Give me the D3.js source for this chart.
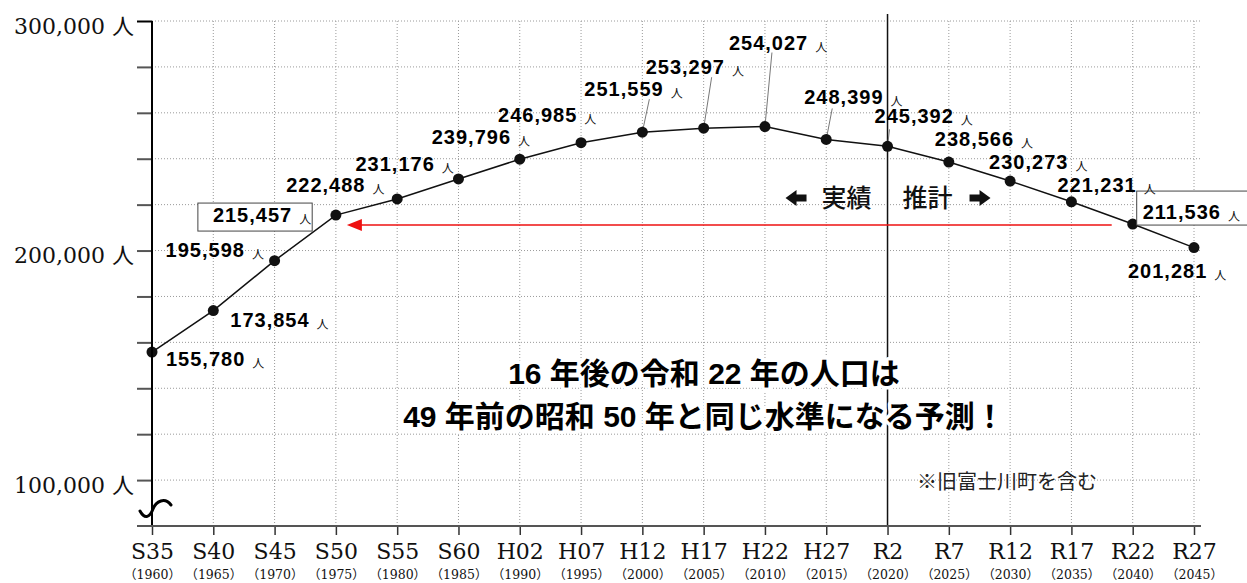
<!DOCTYPE html>
<html>
<head>
<meta charset="utf-8">
<script src="https://cdn.jsdelivr.net/npm/d3@7"></script>
<style>
body { margin: 0; background: #fff; }
</style>
</head>
<body>
<script>
// data
var eras = ["S35","S40","S45","S50","S55","S60","H02","H07","H12","H17","H22","H27","R2","R7","R12","R17","R22","R27"];
var years = [1960,1965,1970,1975,1980,1985,1990,1995,2000,2005,2010,2015,2020,2025,2030,2035,2040,2045];
var population = [155780,173854,195598,215457,222488,231176,239796,246985,251559,253297,254027,248399,245392,238566,230273,221231,211536,201281];
var yTicks = [100000,120000,140000,160000,180000,200000,220000,240000,260000,280000,300000];
var yLabelTicks = [100000,200000,300000];
var splitEra = "R2";          // 実績 | 推計
var compareFrom = 16, compareTo = 3;   // R22 -> S50
var messageLines = ["16 年後の令和 22 年の人口は", "49 年前の昭和 50 年と同じ水準になる予測！"];
var noteText = "※旧富士川町を含む";

// label placement (offset of label from its point), leader lines, boxes
var labelOffset = [[14,14],[17,16],[-109,-4],[-123,7],[-111,-7],[-103,-8],[-88,-15],[-83,-21],[-58,-36],[-58,-54],[-36,-77],[-22,-35],[-13,-23],[-14,-16],[-21,-12],[-14,-10],[10,-5],[-66,30]];
var leaderEnd = {8:[7,-33], 9:[8,-51], 10:[7,-74], 11:[6,-31], 12:[2,-17]};
var boxPad = {3:[15,3,1,2], 16:[6,12,8,-1]};

var W = 1247, H = 583;
var svg = d3.select("body").append("svg")
    .attr("width", W).attr("height", H);

var x = d3.scalePoint().domain(eras).range([152, 1194]);
var y = d3.scaleLinear().domain([80000, 300000]).range([526, 21]);

// grid
var grid = svg.append("g");
grid.selectAll("line.h").data(yTicks).enter().append("line")
    .attr("x1", 152).attr("x2", 1201)
    .attr("y1", function(d){ return y(d); }).attr("y2", function(d){ return y(d); })
    .style("stroke", "#9a9a9a").style("stroke-width", 1).style("stroke-dasharray", "1,2");
grid.selectAll("line.v").data(eras.slice(1)).enter().append("line")
    .attr("x1", function(d){ return x(d); }).attr("x2", function(d){ return x(d); })
    .attr("y1", 21).attr("y2", 526)
    .style("stroke", "#9a9a9a").style("stroke-width", 1).style("stroke-dasharray", "1,2");

// 実績 / 推計 divider
svg.append("line")
    .attr("x1", x(splitEra)).attr("x2", x(splitEra))
    .attr("y1", 14).attr("y2", 526)
    .style("stroke", "#111").style("stroke-width", 1.5);

// red comparison arrow
var ay = y(population[compareFrom]) + 1;
var ax1 = x(eras[compareFrom]) - 21, ax2 = x(eras[compareTo]) + 11;
svg.append("line")
    .attr("x1", ax1).attr("x2", ax2 + 12).attr("y1", ay).attr("y2", ay)
    .style("stroke", "#ee1111").style("stroke-width", 1.5);
svg.append("path")
    .attr("d", "M" + ax2 + "," + ay + "L" + (ax2 + 15) + "," + (ay - 6) + "L" + (ax2 + 15) + "," + (ay + 6) + "Z")
    .style("fill", "#ee1111");

// 実績 推計 with block arrows
var sx = x(splitEra);
svg.append("path")
    .attr("d", "M" + (sx-102) + ",198 L" + (sx-91) + ",190 L" + (sx-91) + ",194.5 L" + (sx-81) + ",194.5 L" + (sx-81) + ",201.5 L" + (sx-91) + ",201.5 L" + (sx-91) + ",206 Z")
    .style("fill", "#111");
svg.append("path")
    .attr("d", "M" + (sx+103) + ",198 L" + (sx+92) + ",190 L" + (sx+92) + ",194.5 L" + (sx+82) + ",194.5 L" + (sx+82) + ",201.5 L" + (sx+92) + ",201.5 L" + (sx+92) + ",206 Z")
    .style("fill", "#111");
svg.append("text").text("実績")
    .attr("x", sx - 66).attr("y", 207)
    .style("font-family", "'Noto Sans CJK JP'").style("font-size", "25px").style("font-weight", 500).style("fill", "#111");
svg.append("text").text("推計")
    .attr("x", sx + 15).attr("y", 207)
    .style("font-family", "'Noto Sans CJK JP'").style("font-size", "25px").style("font-weight", 500).style("fill", "#111");

// population line
var line = d3.line()
    .x(function(d,i){ return x(eras[i]); })
    .y(function(d){ return y(d); });
svg.append("path").datum(population)
    .attr("d", line)
    .style("fill", "none").style("stroke", "#111").style("stroke-width", 1.5);

// leader lines
svg.selectAll("line.leader").data(population).enter()
    .filter(function(d,i){ return leaderEnd[i]; })
    .append("line")
    .attr("x1", function(d){ return x(eras[population.indexOf(d)]); })
    .attr("y1", function(d){ return y(d); })
    .attr("x2", function(d){ var i = population.indexOf(d); return x(eras[i]) + leaderEnd[i][0]; })
    .attr("y2", function(d){ var i = population.indexOf(d); return y(d) + leaderEnd[i][1]; })
    .style("stroke", "#777").style("stroke-width", 1);

// dots
svg.selectAll("circle.pt").data(population).enter().append("circle")
    .attr("cx", function(d,i){ return x(eras[i]); })
    .attr("cy", function(d){ return y(d); })
    .attr("r", 5.5)
    .style("fill", "#111");

// value labels
var fmt = d3.format(",");
var labels = svg.selectAll("text.val").data(population).enter().append("text")
    .attr("class", "val")
    .attr("x", function(d,i){ return x(eras[i]) + labelOffset[i][0]; })
    .attr("y", function(d,i){ return y(d) + labelOffset[i][1]; });
labels.append("tspan")
    .text(function(d){ return fmt(d); })
    .style("font-family", "'Liberation Sans', Arial, sans-serif")
    .style("font-weight", "bold").style("font-size", "20px")
    .style("letter-spacing", "1px").style("fill", "#000");
labels.append("tspan")
    .text("人")
    .attr("dx", 7).attr("dy", 2)
    .style("font-family", "'Noto Sans CJK JP'").style("font-size", "12px").style("fill", "#111");

// boxes around two compared values
labels.each(function(d,i){
    if (!boxPad[i]) return;
    var bb = this.getBBox(), p = boxPad[i];
    svg.insert("rect", "text.val")
        .attr("x", bb.x - p[0]).attr("y", bb.y - p[1] + 2)
        .attr("width", bb.width + p[0] + p[2]).attr("height", bb.height + p[1] + p[3])
        .style("fill", "#fff").style("stroke", "#444").style("stroke-width", 1);
});

// message
svg.selectAll("text.msg").data(messageLines).enter().append("text")
    .attr("x", 704)
    .attr("y", function(d,i){ return 384 + i * 43; })
    .attr("text-anchor", "middle")
    .text(function(d){ return d; })
    .style("font-family", "'Liberation Sans', 'Noto Sans CJK JP', sans-serif")
    .style("font-weight", "bold").style("font-size", "30px")
    .style("fill", "#000")
    .style("stroke", "#fff").style("stroke-width", 7).style("stroke-linejoin", "round")
    .style("paint-order", "stroke");

svg.append("text").text(noteText)
    .attr("x", 917).attr("y", 489)
    .style("font-family", "'Noto Sans CJK JP'").style("font-size", "20px").style("fill", "#222");

// y axis
var yAxis = svg.append("g")
    .attr("transform", "translate(152,0)")
    .call(d3.axisLeft(y).tickValues(yTicks).tickSize(15).tickPadding(3)
        .tickFormat(function(d){ return yLabelTicks.indexOf(d) >= 0 ? fmt(d) + " 人" : ""; }));
yAxis.select(".domain").remove();
yAxis.selectAll(".tick line")
    .style("stroke", function(d){ return d === 300000 ? "#000" : "#555"; })
    .style("stroke-width", 2);
yAxis.selectAll(".tick text")
    .attr("dy", "0.55em")
    .style("font-family", "'DejaVu Serif', 'Noto Sans CJK JP', serif")
    .style("font-size", "22px").style("fill", "#111");
svg.append("line")
    .attr("x1", 152).attr("x2", 152).attr("y1", y(300000)).attr("y2", 526)
    .style("stroke", "#000").style("stroke-width", 2);

// x axis
var xAxis = svg.append("g")
    .attr("transform", "translate(0,526)")
    .call(d3.axisBottom(x).tickSize(9).tickPadding(8));
xAxis.select(".domain").remove();
xAxis.selectAll(".tick line").style("stroke", "#333").style("stroke-width", 1.5);
xAxis.selectAll(".tick text")
    .attr("dy", "0.71em")
    .style("font-family", "'DejaVu Serif', serif")
    .style("font-size", "22px").style("fill", "#111");
var yearText = xAxis.selectAll(".tick").append("text")
    .attr("y", 53)
    .attr("text-anchor", "middle")
    .style("font-size", "12.5px").style("fill", "#111");
yearText.append("tspan").text("（").style("font-family", "'Noto Sans CJK JP'");
yearText.append("tspan").text(function(d,i){ return years[i]; }).style("font-family", "'DejaVu Serif', serif");
yearText.append("tspan").text("）").style("font-family", "'Noto Sans CJK JP'");
svg.append("line")
    .attr("x1", 137).attr("x2", 1201).attr("y1", 526).attr("y2", 526)
    .style("stroke", "#555").style("stroke-width", 2);

// axis break mark
svg.append("path")
    .attr("d", "M140,511 C145,520 150,517 153,509 C156,501 165,497 171,505")
    .style("fill", "none").style("stroke", "#000").style("stroke-width", 3).style("stroke-linecap", "round");
</script>
</body>
</html>
